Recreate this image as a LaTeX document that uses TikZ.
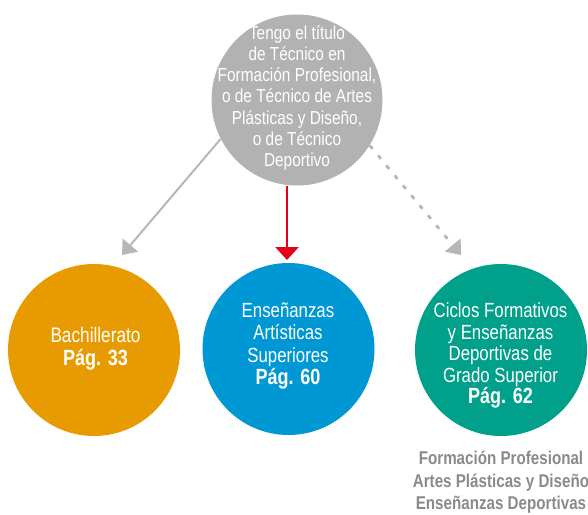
\documentclass[tikz,border=0pt]{standalone}
\usepackage{fontspec}
\setmainfont[FakeStretch=0.82]{Liberation Sans}
\usetikzlibrary{arrows.meta}
\definecolor{topgray}{RGB}{178,178,178}
\definecolor{linegray}{RGB}{182,182,182}
\definecolor{orangec}{RGB}{232,155,0}
\definecolor{bluec}{RGB}{0,152,212}
\definecolor{greenc}{RGB}{0,160,138}
\definecolor{redc}{RGB}{226,0,26}
\definecolor{notegray}{RGB}{138,138,138}
\newcommand\pagref[1]{{\bfseries\fontsize{22}{22}\selectfont #1}}
\begin{document}
\begin{tikzpicture}[x=1pt,y=-1pt,
  disc/.style={circle,minimum size=172pt,inner sep=0pt,draw=none},
  toptext/.style={align=center,text=white,font=\fontsize{18.8}{21.3}\selectfont},
  disctext/.style={align=center,text=white,font=\fontsize{20.5}{22.2}\selectfont},
  notetext/.style={align=center,text=notegray,font=\bfseries\fontsize{18.5}{22.5}\selectfont},
  grayarrow/.style={draw=linegray,line width=2pt,-{Triangle[length=13pt,width=20pt]},fill=linegray},
  dasharrow/.style={draw=linegray,line width=2.8pt,dash pattern=on 4.5pt off 8.5pt,-{Triangle[length=13pt,width=20pt]}},
  redarrow/.style={draw=redc,line width=2.6pt,-{Triangle[length=13pt,width=23pt]}}
]
\useasboundingbox (0,0) rectangle (588,514);
% circles
\node[disc,fill=topgray,minimum size=171pt] (top) at (297,100) {};
\node[disc,fill=orangec] (bach) at (94,350) {};
\node[disc,fill=bluec] (arts) at (288.5,349) {};
\node[disc,fill=greenc] (ciclos) at (501,350) {};
% texts
\node[toptext] (ttop) at (297,98) {Tengo el título\\de Técnico en\\Formación Profesional,\\o de Técnico de Artes\\Plásticas y Diseño,\\o de Técnico\\Deportivo};
\node[disctext,font=\fontsize{21}{23}\selectfont] (tbach) at (95.5,349) {Bachillerato\\\pagref{Pág. 33}};
\node[disctext] (tarts) at (288,346) {Enseñanzas\\Artísticas\\Superiores\\\pagref{Pág. 60}};
\node[disctext,font=\fontsize{20.5}{21.5}\selectfont] (tciclos) at (500.5,355.5) {Ciclos Formativos\\y Enseñanzas\\Deportivas de\\Grado Superior\\\pagref{Pág. 62}};
\node[notetext] (note) at (501,482.5) {Formación Profesional\\Artes Plásticas y Diseño\\Enseñanzas Deportivas};
% arrows
\coordinate (lt) at (122,255);
\coordinate (rt) at (461,255);
\coordinate (mt) at (287,260);
\draw[grayarrow] (top.207.8) -- (lt);
\draw[dasharrow] (top.-32) -- (rt);
\draw[redarrow] (top.south -| mt) -- (mt);
\end{tikzpicture}
\end{document}
